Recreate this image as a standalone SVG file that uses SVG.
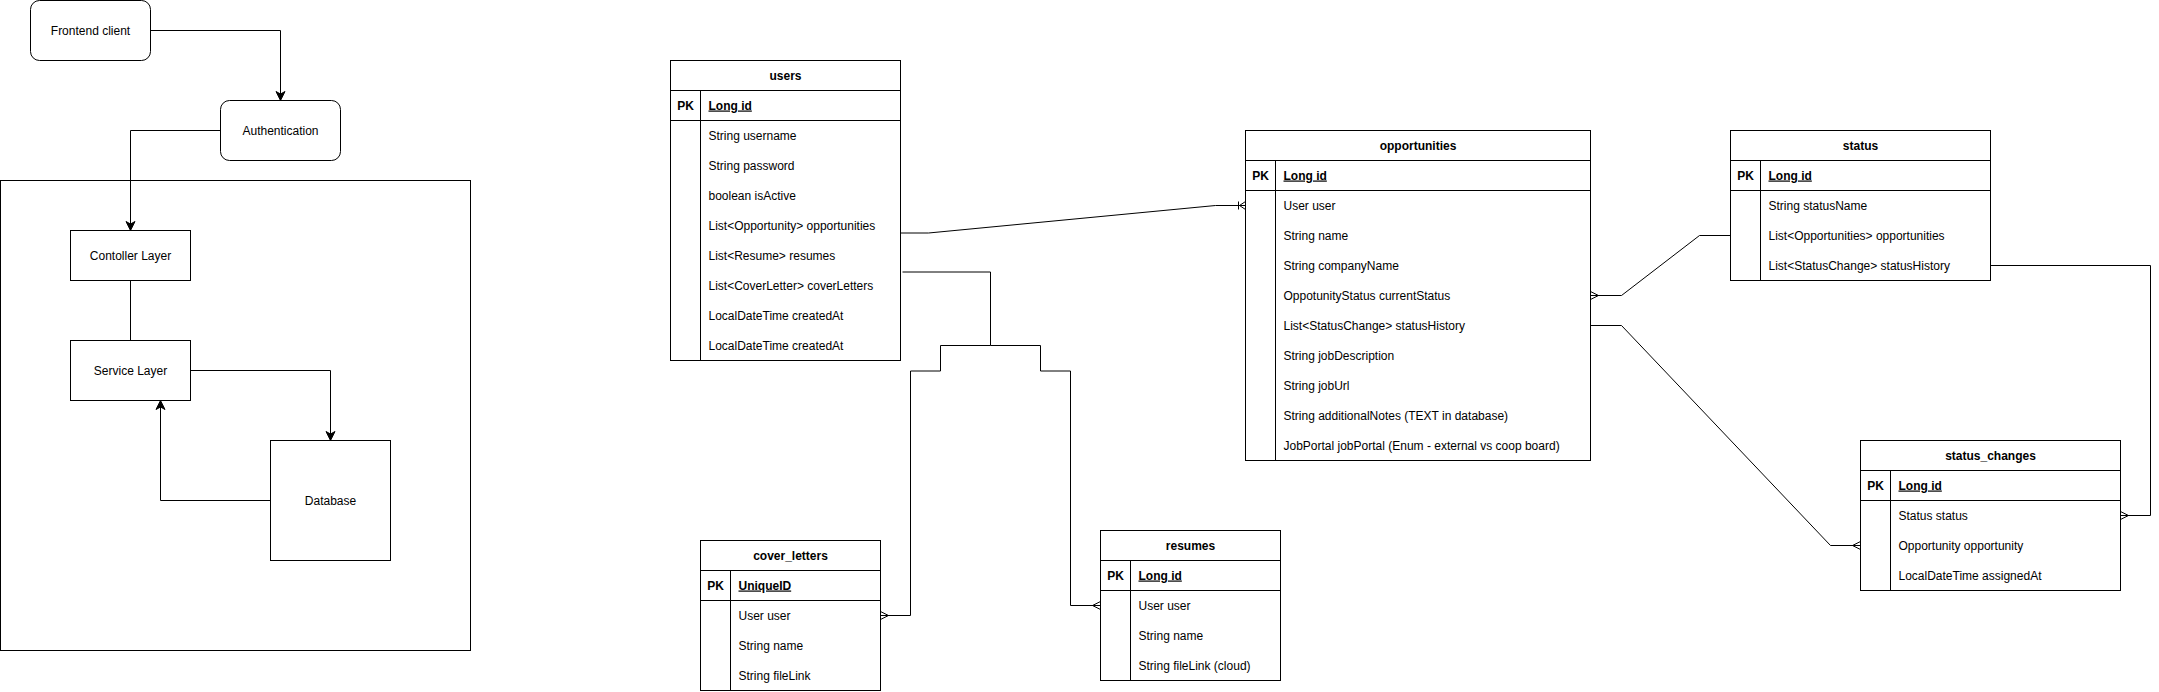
<svg xmlns="http://www.w3.org/2000/svg" width="2159" height="692" viewBox="0 0 2159 692">
<style>
.box{fill:#fff;stroke:#000;stroke-width:1}
.ln{fill:none;stroke:#000;stroke-width:1}
text{font-family:"Liberation Sans",Arial,sans-serif;font-size:12px;fill:#000}
.c{text-anchor:middle}
.b{font-weight:bold}
.u{font-weight:bold;text-decoration:underline}
</style>
<defs>
<marker id="arrow" markerUnits="userSpaceOnUse" markerWidth="14" markerHeight="14" viewBox="-12 -7 14 14" refX="0" refY="0" orient="auto" overflow="visible">
<path d="M0,0 L-9,-4.5 L-6.5,0 L-9,4.5 Z" fill="#000" stroke="#000" stroke-width="1"/>
</marker>
<marker id="many" markerUnits="userSpaceOnUse" markerWidth="14" markerHeight="14" viewBox="-12 -7 14 14" refX="0" refY="0" orient="auto" overflow="visible">
<path d="M-8,0 L0,-4 M-8,0 L0,4" fill="none" stroke="#000" stroke-width="1"/>
</marker>
<marker id="onemany" markerUnits="userSpaceOnUse" markerWidth="14" markerHeight="14" viewBox="-12 -7 14 14" refX="0" refY="0" orient="auto" overflow="visible">
<path d="M-6,0 L0,-4 M-6,0 L0,4 M-7,-4 L-7,4" fill="none" stroke="#000" stroke-width="1"/>
</marker>
</defs>
<g transform="translate(0.5,0.5)">
<g id="container"><rect class="box" x="0" y="180" width="470" height="470"/></g>

<g id="connectors">
<path class="ln" d="M150,30 H280 V100" marker-end="url(#arrow)"/>
<path class="ln" d="M220,130 H130 V230" marker-end="url(#arrow)"/>
<path class="ln" d="M130,280 V340"/>
<path class="ln" d="M190,370 H330 V440" marker-end="url(#arrow)"/>
<path class="ln" d="M270,500 H160 V400" marker-end="url(#arrow)"/>
<path class="ln" d="M897,232.5 L928,232.5 L1215,205 L1245,205" marker-end="url(#onemany)"/>
<path class="ln" d="M902,271.5 L990,271.5 L990,345 L940,345 L940,370.5 L910,370.5 L910,615 L880,615" marker-end="url(#many)"/>
<path class="ln" d="M990,345 L1040,345 L1040,370.5 L1070,370.5 L1070,605 L1100,605" marker-end="url(#many)"/>
<path class="ln" d="M1730,235 L1699,235 L1621,295 L1590,295" marker-end="url(#many)"/>
<path class="ln" d="M1590,325 L1621,325 L1830,545 L1860,545" marker-end="url(#many)"/>
<path class="ln" d="M1990,265 L2150,265 L2150,515 L2120,515" marker-end="url(#many)"/>
</g>

<g id="frontend">
<rect class="box" x="30" y="0" width="120" height="60" rx="9"/>
<text class="c" x="90" y="34">Frontend client</text>
</g>
<g id="authentication">
<rect class="box" x="220" y="100" width="120" height="60" rx="9"/>
<text class="c" x="280" y="134">Authentication</text>
</g>
<g id="controller">
<rect class="box" x="70" y="230" width="120" height="50"/>
<text class="c" x="130" y="259">Contoller Layer</text>
</g>
<g id="service">
<rect class="box" x="70" y="340" width="120" height="60"/>
<text class="c" x="130" y="374">Service Layer</text>
</g>
<g id="database">
<rect class="box" x="270" y="440" width="120" height="120"/>
<text class="c" x="330" y="504">Database</text>
</g>

<g id="users">
<rect class="box" x="670" y="60" width="230" height="300"/>
<path class="ln" d="M670,90 H900 M670,120 H900 M700,90 V360"/>
<text class="c b" x="785" y="79">users</text>
<text class="c b" x="685" y="109">PK</text>
<text class="u" x="708" y="109">Long id</text>
<text x="708" y="139">String username</text>
<text x="708" y="169">String password</text>
<text x="708" y="199">boolean isActive</text>
<text x="708" y="229">List&lt;Opportunity&gt; opportunities</text>
<text x="708" y="259">List&lt;Resume&gt; resumes</text>
<text x="708" y="289">List&lt;CoverLetter&gt; coverLetters</text>
<text x="708" y="319">LocalDateTime createdAt</text>
<text x="708" y="349">LocalDateTime createdAt</text>
</g>

<g id="opportunities">
<rect class="box" x="1245" y="130" width="345" height="330"/>
<path class="ln" d="M1245,160 H1590 M1245,190 H1590 M1275,160 V460"/>
<text class="c b" x="1417.5" y="149">opportunities</text>
<text class="c b" x="1260" y="179">PK</text>
<text class="u" x="1283" y="179">Long id</text>
<text x="1283" y="209">User user</text>
<text x="1283" y="239">String name</text>
<text x="1283" y="269">String companyName</text>
<text x="1283" y="299">OppotunityStatus currentStatus</text>
<text x="1283" y="329">List&lt;StatusChange&gt; statusHistory</text>
<text x="1283" y="359">String jobDescription</text>
<text x="1283" y="389">String jobUrl</text>
<text x="1283" y="419">String additionalNotes (TEXT in database)</text>
<text x="1283" y="449">JobPortal jobPortal (Enum - external vs coop board)</text>
</g>

<g id="status">
<rect class="box" x="1730" y="130" width="260" height="150"/>
<path class="ln" d="M1730,160 H1990 M1730,190 H1990 M1760,160 V280"/>
<text class="c b" x="1860" y="149">status</text>
<text class="c b" x="1745" y="179">PK</text>
<text class="u" x="1768" y="179">Long id</text>
<text x="1768" y="209">String statusName</text>
<text x="1768" y="239">List&lt;Opportunities&gt; opportunities</text>
<text x="1768" y="269">List&lt;StatusChange&gt; statusHistory</text>
</g>

<g id="status_changes">
<rect class="box" x="1860" y="440" width="260" height="150"/>
<path class="ln" d="M1860,470 H2120 M1860,500 H2120 M1890,470 V590"/>
<text class="c b" x="1990" y="459">status_changes</text>
<text class="c b" x="1875" y="489">PK</text>
<text class="u" x="1898" y="489">Long id</text>
<text x="1898" y="519">Status status</text>
<text x="1898" y="549">Opportunity opportunity</text>
<text x="1898" y="579">LocalDateTime assignedAt</text>
</g>

<g id="cover_letters">
<rect class="box" x="700" y="540" width="180" height="150"/>
<path class="ln" d="M700,570 H880 M700,600 H880 M730,570 V690"/>
<text class="c b" x="790" y="559">cover_letters</text>
<text class="c b" x="715" y="589">PK</text>
<text class="u" x="738" y="589">UniqueID</text>
<text x="738" y="619">User user</text>
<text x="738" y="649">String name</text>
<text x="738" y="679">String fileLink</text>
</g>

<g id="resumes">
<rect class="box" x="1100" y="530" width="180" height="150"/>
<path class="ln" d="M1100,560 H1280 M1100,590 H1280 M1130,560 V680"/>
<text class="c b" x="1190" y="549">resumes</text>
<text class="c b" x="1115" y="579">PK</text>
<text class="u" x="1138" y="579">Long id</text>
<text x="1138" y="609">User user</text>
<text x="1138" y="639">String name</text>
<text x="1138" y="669">String fileLink (cloud)</text>
</g>
</g>
</svg>
